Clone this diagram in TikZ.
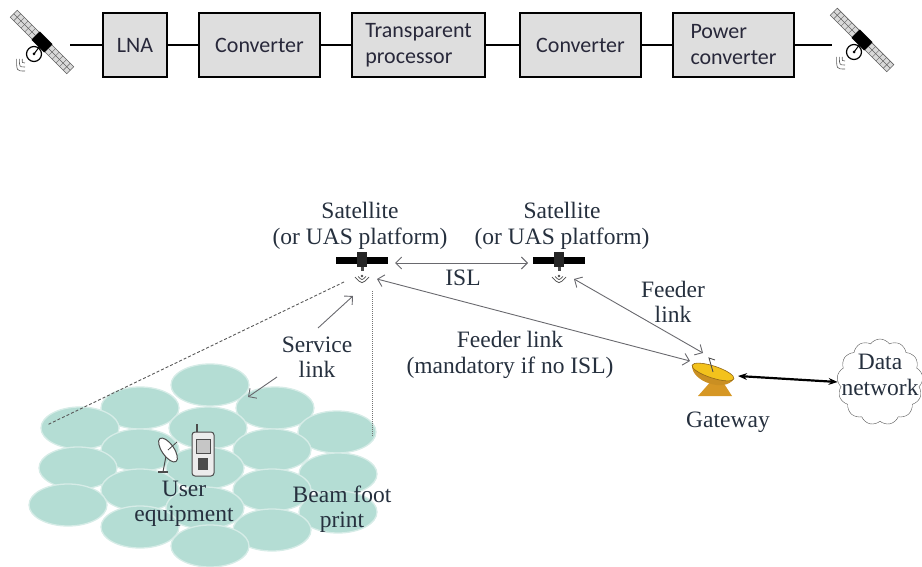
\documentclass[tikz,border=0pt]{standalone}
\usepackage{fontspec}
\setmainfont{Liberation Serif}
\newfontfamily\boxfont{Carlito}
\usetikzlibrary{arrows.meta,shapes.symbols}

\definecolor{boxgray}{RGB}{222,222,222}
\definecolor{boxink}{RGB}{40,40,58}
\definecolor{cellteal}{RGB}{180,221,212}
\definecolor{inkblue}{RGB}{38,48,62}
\definecolor{linkgray}{RGB}{105,105,110}
\definecolor{dishorange}{RGB}{238,168,40}

\tikzset{
  block/.style={draw, line width=2.6pt, fill=boxgray, minimum height=64pt,
    font=\boxfont\fontsize{22}{26}\selectfont, text=boxink, align=left, inner sep=3pt},
  wire/.style={line width=1.4pt},
  lbl/.style={font=\rmfamily\fontsize{23.5}{25.5}\selectfont, text=inkblue, align=center, inner sep=0pt},
  link/.style={linkgray, line width=0.9pt, {Straight Barb[length=6pt]}-{Straight Barb[length=6pt]}},
  onelink/.style={linkgray, line width=0.9pt, -{Straight Barb[length=6pt]}},
  bigarrow/.style={black, line width=2.2pt, {Stealth[length=9pt]}-{Stealth[length=9pt]}},
  cell/.style={fill=cellteal, draw=cellteal!55!white, line width=1.3pt},
  % satellite with two diagonal solar panels
  topsat/.pic={
    \begin{scope}[rotate=-45]
      \foreach \sx in {-1,1}{
        \filldraw[fill=gray!30, draw=gray!75!black, line width=0.6pt]
          (\sx*9,-5) rectangle (\sx*40,5);
        \draw[gray!75!black, line width=0.4pt] (\sx*9,0) -- (\sx*40,0);
        \foreach \k in {1,...,5}
          \draw[gray!75!black, line width=0.4pt] (\sx*9+\sx*\k*5.2,-5) -- ++(0,10);
      }
      \fill[black] (-9,-6) rectangle (9,6);
    \end{scope}
    \filldraw[fill=white, draw=black, line width=1.2pt] (-8,12) circle (7.5);
    \draw[black, line width=1pt] (-8,12) -- (-2,4);
    \fill[black] (-8,12) circle (1.5);
    \foreach \r in {4,8,12}
      \draw[gray!70!black, line width=0.6pt] (-17-\r*0.7,17) .. controls (-17-\r*0.7,17+\r) .. (-17,17+\r);
  },
  % small satellite seen from the side
  minisat/.pic={
    \fill[black] (-26,-3.5) rectangle (-5,3.5);
    \fill[black] (5,-3.5) rectangle (26,3.5);
    \fill[black!85] (-5,-8) rectangle (5,7);
    \fill[black!70] (-1.5,7) rectangle (1.5,11);
    \fill[black!70] (0,16) circle (1.4);
    \draw[black!70, line width=0.7pt] (-4,16.5) .. controls (0,20.5) .. (4,16.5);
    \draw[black!70, line width=0.7pt] (-7,17) .. controls (0,24.5) .. (7,17);
  },
}

\begin{document}
\begin{tikzpicture}[x=1pt,y=-1pt]
  \useasboundingbox (0,0) rectangle (922,567);
  % payload chain
  \pic at (42,42) {topsat};
  \pic at (862,40) {topsat};
  \coordinate (insat)  at (70,45);
  \coordinate (outsat) at (832,45);
  \node[block, minimum width=64pt]  (lna)   at (135,45)   {LNA};
  \node[block, minimum width=121pt] (conv1) at (259.5,45) {Converter};
  \node[block, minimum width=133pt] (proc)  at (418.5,45) {Transparent\\processor};
  \node[block, minimum width=121pt] (conv2) at (580.5,45) {Converter};
  \node[block, minimum width=121pt] (pconv) at (733.5,45) {Power\\converter};
  \draw[wire] (insat) -- (lna);
  \draw[wire] (lna) -- (conv1);
  \draw[wire] (conv1) -- (proc);
  \draw[wire] (proc) -- (conv2);
  \draw[wire] (conv2) -- (pconv);
  \draw[wire] (pconv) -- (outsat);

  % beam foot print cells
  \foreach \cx/\cy in {210/385,
      140/408, 275/408,
      80/428, 208/428, 337/432,
      140/450, 272/450,
      78/468, 205/468, 338/474,
      140/490, 272/490,
      68/505, 205/508, 338/512,
      140/527, 272/530,
      210/546}
    \draw[cell] (\cx,\cy) ellipse (39 and 21);

  % user equipment: dish and handset
  \coordinate (uedish) at (168,450);
  \coordinate (uephone) at (203,452);
  \draw[gray!60!black, line width=1pt] (uedish) ++(-2,6) -- ++(-3,16);
  \draw[gray!60!black, line width=1.4pt] (uedish) ++(-10,22) -- ++(10,0);
  \filldraw[fill=white, draw=gray!60!black, line width=1pt, rotate around={-55:(uedish)}]
    (uedish) ellipse (14 and 6);
  \draw[gray!60!black, line width=0.8pt] (uedish) -- ++(9,-8);
  \draw[gray!60!black, fill=gray!15, line width=1pt, rounded corners=3pt]
    (uephone) ++(-11,-20) rectangle ++(22,44);
  \draw[gray!60!black, line width=1.4pt] (uephone) ++(-6,-20) -- ++(0,-8);
  \draw[gray!60!black, fill=gray!45] (uephone) ++(-7,-13) rectangle ++(14,14);
  \fill[gray!60!black] (uephone) ++(-5,6) rectangle ++(10,12);
  \node[lbl] (ue) at (184,504) {User\\equipment};
  \node[lbl] (foot) at (342,509) {Beam foot\\print};

  % satellites
  \coordinate (sat1) at (362,260);
  \coordinate (sat2) at (559,260);
  \pic at (sat1) {minisat};
  \pic at (sat2) {minisat};
  \node[lbl] (sat1lbl) at (360,226) {Satellite\\(or UAS platform)};
  \node[lbl] (sat2lbl) at (562,226) {Satellite\\(or UAS platform)};
  \coordinate (sat1r) at (395,263);
  \coordinate (sat2l) at (528,263);
  \coordinate (sat1rx) at (377,279);
  \coordinate (sat2rx) at (574,279);
  \coordinate (sat1tx) at (344,282);
  \coordinate (sat1nadir) at (372,291);

  % coverage edges
  \coordinate (edgel) at (47,425);
  \coordinate (edger) at (372,436);
  \draw[black!65, line width=0.9pt, densely dashed] (sat1tx) -- (edgel);
  \draw[black!55, line width=1pt, densely dotted] (sat1nadir) -- (edger);

  % gateway and data network
  \coordinate (gw) at (713,372);
  \fill[dishorange!90!black] (gw) ++(-15,24) -- ++(34,0) -- ++(-11,-17) -- ++(-8,0) -- cycle;
  \begin{scope}[rotate around={-18:(gw)}]
    \fill[dishorange!85!black] (gw) ++(-22,0) .. controls ++(4,16) and ++(-4,16) .. ++(44,0) -- cycle;
    \filldraw[fill=dishorange!70!yellow, draw=dishorange!60!black, line width=0.6pt]
      (gw) ellipse (22 and 6);
  \end{scope}
  \draw[gray!60!black, line width=0.9pt] (gw) -- ++(-4,-14) -- ++(6,2);
  \node[lbl] (gwlbl) at (728,422) {Gateway};
  \coordinate (gwport) at (738,376);
  \coordinate (gwrx1) at (690,361);
  \coordinate (gwrx2) at (703,353);
  \node[cloud, draw=gray!70!black, fill=white, cloud puffs=13, cloud puff arc=110,
    minimum width=86pt, minimum height=86pt, inner sep=0pt] (net) at (880,382) {};
  \node[lbl] (netlbl) at (880,375) {Data\\network};
  \draw[bigarrow] (gwport) -- (net.west);

  % links
  \draw[link] (sat1r) -- (sat2l);
  \node[lbl] (isl) at (463,278) {ISL};
  \draw[link] (sat1rx) -- (gwrx1);
  \draw[link] (sat2rx) -- (gwrx2);
  \node[lbl] (feed1) at (510,355) {Feeder link\\(mandatory if no ISL)};
  \node[lbl] (feed2) at (673,302) {Feeder\\link};
  \coordinate (svcup) at (318,328);
  \coordinate (svcdown) at (277,377);
  \coordinate (svcsat) at (353,296);
  \coordinate (svccell) at (248,397);
  \draw[onelink] (svcup) -- (svcsat);
  \draw[onelink] (svcdown) -- (svccell);
  \node[lbl] (svc) at (317,357) {Service\\link};
\end{tikzpicture}
\end{document}
